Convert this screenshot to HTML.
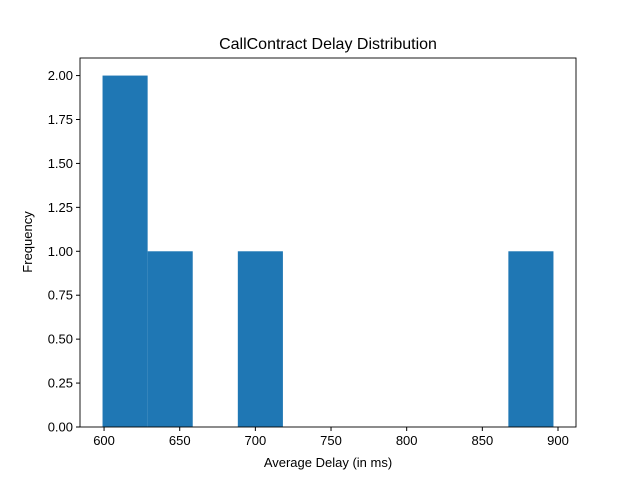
<!DOCTYPE html>
<html><head><meta charset="utf-8"><style>
body{margin:0;background:#fff;}
svg{display:block;font-family:"Liberation Sans","DejaVu Sans",sans-serif;}
</style></head><body>
<svg id="chart" width="640" height="480">
<rect width="640" height="480" fill="#fff"/>
<text x="328" y="49" text-anchor="middle" font-size="16">CallContract Delay Distribution</text>
<g id="bars"></g>
<g id="xticks"></g>
<g id="yticks"></g>
<rect x="80" y="58" width="496" height="369" fill="none" stroke="#000" stroke-width="0.9"/>
<text x="328" y="467" text-anchor="middle" font-size="13">Average Delay (in ms)</text>
<text x="0" y="0" transform="translate(32,242) rotate(-90)" text-anchor="middle" font-size="13">Frequency</text>
</svg>
<script>
const binMin = 599;
const binMax = 897;
const counts = [2,1,0,1,0,0,0,0,0,1];
const xTicks = [600,650,700,750,800,850,900];
const yTicks = [0,0.25,0.5,0.75,1.0,1.25,1.5,1.75,2.0];
const ns="http://www.w3.org/2000/svg";
const L=80,R=576,T=58,B=427;
const span=binMax-binMin, xlo=binMin-span*0.05, xhi=binMax+span*0.05;
const ymax=Math.max(...counts)*1.05;
const xs=v=>L+(v-xlo)/(xhi-xlo)*(R-L);
const ys=v=>B-v/ymax*(B-T);
const w=span/counts.length;
const gb=document.getElementById('bars');
counts.forEach((c,i)=>{
 if(c<=0)return;
 const r=document.createElementNS(ns,'rect');
 const x0=xs(binMin+i*w),x1=xs(binMin+(i+1)*w);
 r.setAttribute('x',x0);r.setAttribute('width',x1-x0);
 r.setAttribute('y',ys(c));r.setAttribute('height',ys(0)-ys(c));
 r.setAttribute('fill','#1f77b4');
 
 
 gb.appendChild(r);
});
const gx=document.getElementById('xticks');
xTicks.forEach(t=>{
 const x=xs(t);
 const l=document.createElementNS(ns,'line');
 l.setAttribute('x1',x);l.setAttribute('x2',x);l.setAttribute('y1',B);l.setAttribute('y2',B+4);l.setAttribute('stroke','#000');
 
 
 gx.appendChild(l);
 const tx=document.createElementNS(ns,'text');
 tx.setAttribute('x',x);tx.setAttribute('y',B+18);tx.setAttribute('text-anchor','middle');tx.setAttribute('font-size','13');
 tx.textContent=t;
 
 
 gx.appendChild(tx);
});
const gy=document.getElementById('yticks');
yTicks.forEach(t=>{
 const y=ys(t);
 const l=document.createElementNS(ns,'line');
 l.setAttribute('x1',L-4);l.setAttribute('x2',L);l.setAttribute('y1',y);l.setAttribute('y2',y);l.setAttribute('stroke','#000');
 
 
 gy.appendChild(l);
 const tx=document.createElementNS(ns,'text');
 tx.setAttribute('x',L-7);tx.setAttribute('y',y+4.5);tx.setAttribute('text-anchor','end');tx.setAttribute('font-size','13');
 tx.textContent=t.toFixed(2);
 
 
 gy.appendChild(tx);
});
</script>
</body></html>
